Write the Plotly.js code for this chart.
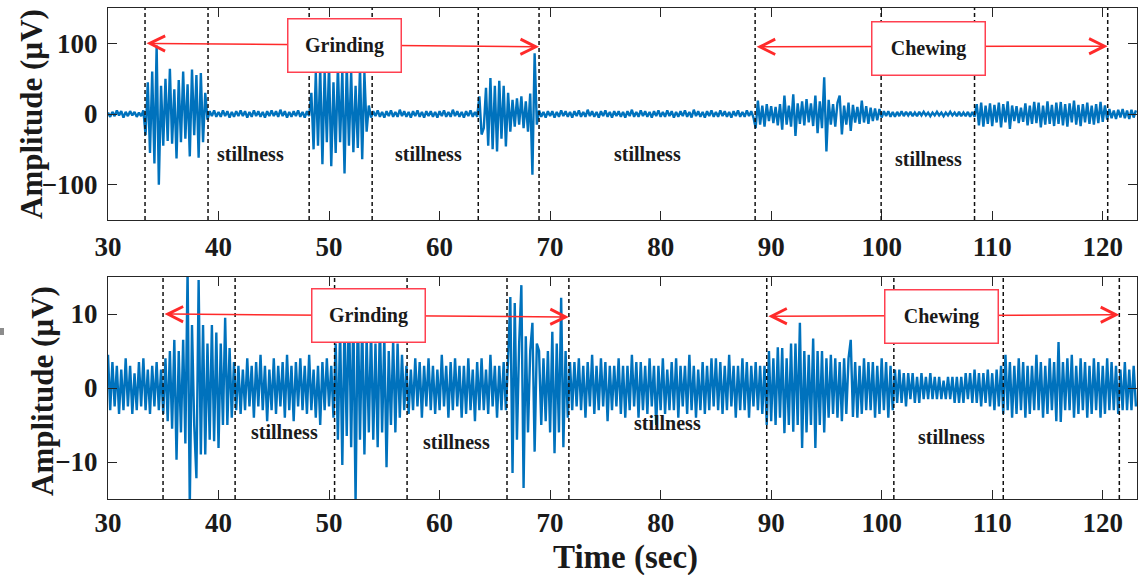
<!DOCTYPE html>
<html><head><meta charset="utf-8">
<script src="https://cdn.plot.ly/plotly-3.0.1.min.js"></script>
<style>html,body{margin:0;padding:0;background:#fff}#chart{width:1142px;height:575px}</style>
</head><body><div id="chart"></div>
<script>
// sampling of the traces (seconds)
const startTime = 30, sampleStep = 0.2;

// upper panel signal (µV), 5 samples per second from 30 s
const topSignal = [
 2,-4,3,-3,5,        // 30
 -2,4,-5,3,-3,       // 31
 4,-2,3,-4,2,        // 32
 -3,5,-30,45,-55,    // 33
 60,-70,97,-100,40,  // 34
 -45,50,-38,64,-42,  // 35
 35,-63,48,-40,60,   // 36
 -35,42,-60,63,-30,  // 37
 55,-62,58,-40,30,   // 38
 -8,4,-3,5,-4,       // 39
 3,-4,5,-3,4,        // 40
 -5,3,-4,4,-3,       // 41
 5,-3,4,-5,3,        // 42
 -4,5,-3,4,-4,       // 43
 3,-5,4,-3,5,        // 44
 -3,4,-4,6,-3,       // 45
 4,-5,3,-4,4,        // 46
 -3,5,-4,3,-5,       // 47
 4,-3,30,-50,58,     // 48
 -45,65,-71,60,-40,  // 49
 70,-74,45,-55,68,   // 50
 -40,62,-84,70,-45,  // 51
 60,-54,40,-48,66,   // 52
 -64,58,-25,12,-5,   // 53
 4,-3,5,-4,3,        // 54
 -5,4,-3,5,-4,       // 55
 3,-4,6,-3,4,        // 56
 -4,3,-5,4,-3,       // 57
 5,-4,3,-5,4,        // 58
 -3,4,-4,3,-5,       // 59
 4,-3,5,-4,3,        // 60
 -4,6,-3,4,-4,       // 61
 3,-5,4,-3,5,        // 62
 -4,3,-4,25,-29,     // 63
 -20,37,-45,51,-50,  // 64
 40,-53,47,-35,40,   // 65
 -46,30,-25,20,-18,  // 66
 22,-15,25,-20,18,   // 67
 -25,29,-86,86,-15,  // 68
 5,-4,3,-5,4,        // 69
 -3,4,-5,3,-4,       // 70
 5,-3,4,-4,3,        // 71
 -5,4,-3,5,-4,       // 72
 3,-4,6,-3,4,        // 73
 -4,3,-5,4,-3,       // 74
 5,-4,3,-5,4,        // 75
 -3,4,-4,3,-5,       // 76
 4,-3,6,-4,3,        // 77
 -4,5,-3,4,-4,       // 78
 3,-5,4,-3,5,        // 79
 -4,3,-4,5,-3,       // 80
 4,-5,3,-4,4,        // 81
 -3,5,-4,3,-5,       // 82
 6,-3,4,-4,3,        // 83
 -5,4,-3,5,-4,       // 84
 3,-4,5,-3,4,        // 85
 -4,3,-5,4,-3,       // 86
 5,-4,3,-4,5,        // 87
 -3,4,-5,-20,19,     // 88
 -15,12,-18,14,-10,  // 89
 11,-13,10,-16,14,   // 90
 -22,26,-15,12,-18,  // 91
 28,-31,15,-14,18,   // 92
 -16,21,-12,15,-17,  // 93
 26,-27,18,-20,52,   // 94
 -53,20,-15,14,-18,  // 95
 16,26,-29,12,-15,   // 96
 16,-24,13,-12,10,   // 97
 -14,19,-12,11,-14,  // 98
 9,-10,8,-9,7,       // 99
 -5,4,-3,4,-4,       // 100
 3,-4,3,-3,4,        // 101
 -3,3,-2,3,-3,       // 102
 2,-3,3,-2,3,        // 103
 -2,2,-3,2,-2,       // 104
 3,-2,2,-3,2,        // 105
 -2,3,-2,2,-3,       // 106
 3,-3,2,-3,3,        // 107
 -4,3,-4,14,-16,     // 108
 16,-18,12,-14,15,   // 109
 -17,13,-12,16,-19,  // 110
 14,-12,18,-21,12,   // 111
 -10,11,-13,9,-11,   // 112
 15,-16,12,-14,17,   // 113
 -13,16,-19,12,-15,  // 114
 18,-14,13,-17,16,   // 115
 -14,17,-16,14,-18,  // 116
 15,-12,19,-15,13,   // 117
 -17,14,-12,16,-14,  // 118
 12,-15,14,-13,17,   // 119
 -11,12,-8,7,-6,     // 120
 5,-7,6,-5,7,        // 121
 -6,5,-7,6,-5,       // 122
 5                   // 123
];

// lower panel signal (µV), 5 samples per second from 30 s
const bottomSignal = [
 4.5,-3,3.5,-2.5,3,      // 30
 -3.5,2.5,-3,4,-2.5,     // 31
 3,-3.5,2,-3,3.5,        // 32
 -2.5,4,-3,2.5,-3.5,     // 33
 3,-2.5,3.5,-3,2.5,      // 34
 -3.5,4,-4.5,5,-5.5,     // 35
 6.5,-9.7,5,-6,6.5,      // 36
 -7.5,16,-16,8.5,-5,     // 37
 -12.2,14.6,-9,8.5,-9,   // 38
 6,-7,8.5,-7.2,7.5,      // 39
 -8.1,6,-5,9.5,-5,       // 40
 5.4,-4,3.5,-3,3,        // 41
 -3.5,2.5,-3,4,-2.5,     // 42
 3,-4,3.5,-2.5,4.5,      // 43
 -3,3,-4.5,2.5,-3,       // 44
 4,-3.5,3,-2.5,3.5,      // 45
 -4,4.5,-3,3,-4.5,       // 46
 3.5,-2.5,4,-3,3,        // 47
 -3.5,4.5,-3,2.5,-4,     // 48
 3,-5,3.5,-3,4,          // 49
 -2.5,3,-4,6,-7,         // 50
 8,-10.4,9,-6.5,12,      // 51
 -8,10,-15.5,11,-7,      // 52
 9,-9,7,-6,8,            // 53
 -7,6,-8,9,-6,           // 54
 7,-10.7,5,-5,6.5,       // 55
 -6,6,-4,4.5,-3,         // 56
 3,-3.5,2.5,-3,4,        // 57
 -2.5,3.5,-4,3,-2.5,     // 58
 4,-3,3,-3.5,2.5,        // 59
 -3,4.5,-2.5,3,-4,       // 60
 3.5,-3,4,-2.5,3,        // 61
 -4,3,-3.5,4,-3,         // 62
 2.5,-4.5,3.5,-3,4,      // 63
 -3,2.5,-3.5,4.5,-2.5,   // 64
 3,-4,3,-3,3.5,          // 65
 -3,4,12.3,-11.5,11.5,   // 66
 -7,6,13.9,-13.5,7,      // 67
 -6,5,8.8,-8.6,6,        // 68
 5,-5,4,-4.5,5,          // 69
 -6,7.6,-8.8,6,-6,       // 70
 12.2,-8,5,-4,3.5,       // 71
 -3,3.5,-2.5,4,-3,       // 72
 3,-4,3.5,-2.5,4.5,      // 73
 -3.5,3,-3,4,-2.5,       // 74
 3.5,-4.5,3,-3,3,        // 75
 -2.5,4,-3.5,3,-4,       // 76
 3,-3,4.5,-2.5,3.5,      // 77
 -4,3.5,-3,3,-3.5,       // 78
 4,-2.5,3,-5,3,          // 79
 -3,4,-3.5,2.5,-3,       // 80
 3.5,-3,4,-4,3,          // 81
 -2.5,3,-3.5,4.5,-3,     // 82
 3,-4,2.5,-3,3.5,        // 83
 -3.5,3,-3,4,-2.5,       // 84
 4,-3,3.5,-3.5,3,        // 85
 -3,4.5,-2.5,3,-4,       // 86
 3,-3,4,-3,3.5,          // 87
 -4,3,-2.5,3.5,-3,       // 88
 3,-3.5,3,-5,5,          // 89
 -4.5,4,-5,5.5,-4,       // 90
 5.4,-6.1,4,-5,6,        // 91
 -5.9,6,-5,8.8,-8.1,     // 92
 5,-6,4.5,-5,6.7,        // 93
 -8.1,5,-5,5,-6,         // 94
 4,-4,4.5,-3.5,4,        // 95
 -4,3.5,-4.5,4,-3.5,     // 96
 4,6.5,-3.9,3.5,-4,      // 97
 3,-3.5,4,-3,3.5,        // 98
 -3,3.5,-4,3,-3.5,       // 99
 4,-3,3.5,-4,3,          // 100
 -3,2.5,-2,2.5,-2,       // 101
 2,-2.5,2,-1.5,2,        // 102
 -2,1.5,-2,2,-1.5,       // 103
 1.5,-1.5,2,-1.5,1.5,    // 104
 -1.5,1.5,-1.5,1,-1.5,   // 105
 1.5,-1.5,1.5,-2,1.5,    // 106
 -2,1.5,-2,2,-1.5,       // 107
 2,-2,2.5,-2,2,          // 108
 -2.5,2,-2,2.5,-2.5,     // 109
 2,-3,2.5,-2.5,3,        // 110
 -3.5,4.5,-3,3.5,-4,     // 111
 3,-3.5,4,-3,3.5,        // 112
 -4,3,-3.5,3,-3,         // 113
 4.5,-3,3.5,-4,3,        // 114
 -3.5,4,-3,3.5,-4.5,     // 115
 6.2,-4.6,3.5,-3,4,      // 116
 -3,4.5,-4,3,-3.5,       // 117
 4,-3,3.5,-4,3,          // 118
 -3.5,4,-3,3.5,-4,       // 119
 3,-3.5,4,-3,3.5,        // 120
 -3,3,-3.5,2.5,-3,       // 121
 3.5,-3,2.5,-3,3,        // 122
 -2.5                    // 123
];

// phase boundaries (s)
const topBoundaries = [33.35, 39.05, 48.2, 53.9, 63.5, 69.0, 88.55, 99.95, 108.4, 120.45];
const bottomBoundaries = [34.98, 41.5, 50.5, 57.06, 66.1, 71.7, 89.6, 101.1, 111.0, 121.5];

// labels
const stillTopX = [42.85, 58.96, 78.8, 104.2];
const stillTopY = [-57, -57, -57, -63];
const stillBotX = [46.0, 61.5, 80.6, 106.3];
const stillBotY = [-5.9, -7.3, -4.7, -6.6];
const phaseNames = ['Grinding', 'Chewing'];
const topBoxX = [51.4, 104.25], topBoxY = [96.4, 92.9];
const botBoxX = [53.57, 105.43], botBoxY = [9.86, 9.66];
const topArrowY = [[100, 95], [95, 96]];
const botArrowY = [[10, 9.6], [9.7, 9.9]];

const xTicks = [30, 40, 50, 60, 70, 80, 90, 100, 110, 120];
const topYTicks = [-100, 0, 100];
const botYTicks = [-10, 0, 10];
const yTitle = 'Amplitude (µV)';
const xTitle = 'Time (sec)';

const FAM = '"Liberation Serif", "Times New Roman", serif';
const INK = '#1a1a1a';
const BLUE = '#0072BD';
const RED = '#ff2a2a';
const W = 1142, H = 575;

const traces = [
  {type: 'scatter', mode: 'lines', x0: startTime, dx: sampleStep, y: topSignal,
   xaxis: 'x', yaxis: 'y', line: {color: BLUE, width: 2.4, simplify: false}, hoverinfo: 'skip'},
  {type: 'scatter', mode: 'lines', x0: startTime, dx: sampleStep, y: bottomSignal,
   xaxis: 'x2', yaxis: 'y2', line: {color: BLUE, width: 2.4, simplify: false}, hoverinfo: 'skip'}
];

const shapes = [];
topBoundaries.forEach(b => shapes.push({type: 'line', xref: 'x', yref: 'y domain', x0: b, x1: b, y0: 0, y1: 1,
  line: {color: '#111', width: 1.5, dash: '4px,3px'}, layer: 'above'}));
bottomBoundaries.forEach(b => shapes.push({type: 'line', xref: 'x2', yref: 'y2 domain', x0: b, x1: b, y0: 0, y1: 1,
  line: {color: '#111', width: 1.5, dash: '4px,3px'}, layer: 'above'}));
// small grey mark at the left edge
shapes.push({type: 'rect', xref: 'paper', yref: 'paper', x0: 0, x1: 4/W, y0: 1-335/H, y1: 1-328/H,
  fillcolor: '#8c8c8c', line: {width: 0}});

const annotations = [];
function arrow(xa, ya, x1, x2, y1, y2) {
  annotations.push({xref: xa, yref: ya, axref: xa, ayref: ya, x: x2, y: y2, ax: x1, ay: y1, text: '',
    showarrow: true, arrowhead: 5, startarrowhead: 5, arrowside: 'end+start', arrowsize: 2, startarrowsize: 2,
    arrowwidth: 1.5, arrowcolor: RED, standoff: 0, startstandoff: 0});
}
function box(xa, ya, x, y, txt) {
  annotations.push({xref: xa, yref: ya, x: x, y: y, text: txt, showarrow: false, width: 112, height: 52,
    bgcolor: '#fff', bordercolor: '#ff4050', borderwidth: 1.5, borderpad: 0,
    font: {family: FAM, size: 20, color: INK, weight: 'bold'}});
}
function still(xa, ya, x, y) {
  annotations.push({xref: xa, yref: ya, x: x, y: y, text: 'stillness', showarrow: false,
    font: {family: FAM, size: 20, color: INK, weight: 'bold'}});
}
arrow('x', 'y', topBoundaries[0], topBoundaries[5], topArrowY[0][0], topArrowY[0][1]);
arrow('x', 'y', topBoundaries[6], topBoundaries[9], topArrowY[1][0], topArrowY[1][1]);
arrow('x2', 'y2', bottomBoundaries[0], bottomBoundaries[5], botArrowY[0][0], botArrowY[0][1]);
arrow('x2', 'y2', bottomBoundaries[6], bottomBoundaries[9], botArrowY[1][0], botArrowY[1][1]);
for (let i = 0; i < 2; i++) {
  box('x', 'y', topBoxX[i], topBoxY[i], phaseNames[i]);
  box('x2', 'y2', botBoxX[i], botBoxY[i], phaseNames[i]);
}
for (let i = 0; i < 4; i++) {
  still('x', 'y', stillTopX[i], stillTopY[i]);
  still('x2', 'y2', stillBotX[i], stillBotY[i]);
}
// axis titles placed as paper annotations
const titleFont = {family: FAM, size: 31, color: INK, weight: 'bold'};
annotations.push({xref: 'paper', yref: 'paper', x: 31/W, y: 1-114/H, text: yTitle, textangle: -90,
  showarrow: false, xanchor: 'center', yanchor: 'middle', font: titleFont});
annotations.push({xref: 'paper', yref: 'paper', x: 42/W, y: 1-391/H, text: yTitle, textangle: -90,
  showarrow: false, xanchor: 'center', yanchor: 'middle', font: titleFont});
annotations.push({xref: 'paper', yref: 'paper', x: 625/W, y: 1-557/H, text: xTitle,
  showarrow: false, xanchor: 'center', yanchor: 'middle', font: {family: FAM, size: 33, color: INK, weight: 'bold'}});

const tickFont = {family: FAM, size: 27, color: INK, weight: 'bold'};
const axBase = {showline: true, linecolor: '#262626', linewidth: 1, mirror: 'ticks', ticks: 'inside',
  ticklen: 9, tickwidth: 1, tickcolor: '#262626', showgrid: false, zeroline: false, tickfont: tickFont};
const xDom = [108/W, 1137/W];

const layout = {
  width: W, height: H, margin: {l: 0, r: 0, t: 0, b: 0},
  paper_bgcolor: '#fff', plot_bgcolor: '#fff', showlegend: false,
  font: {family: FAM, color: INK},
  xaxis: Object.assign({}, axBase, {domain: xDom, range: [30, 123.1], anchor: 'y', tickvals: xTicks,
    ticklabelstandoff: 3}),
  yaxis: Object.assign({}, axBase, {domain: [1-220/H, 1-8/H], range: [-150, 150], anchor: 'x',
    tickvals: topYTicks, ticklabelstandoff: 4}),
  xaxis2: Object.assign({}, axBase, {domain: xDom, range: [30, 123.1], anchor: 'y2', tickvals: xTicks,
    ticklabelstandoff: 0}),
  yaxis2: Object.assign({}, axBase, {domain: [1-499/H, 1-277/H], range: [-15, 15], anchor: 'x2',
    tickvals: botYTicks, ticklabelstandoff: 4}),
  shapes: shapes,
  annotations: annotations
};

Plotly.newPlot('chart', traces, layout, {staticPlot: true, displayModeBar: false});
</script>
</body></html>
